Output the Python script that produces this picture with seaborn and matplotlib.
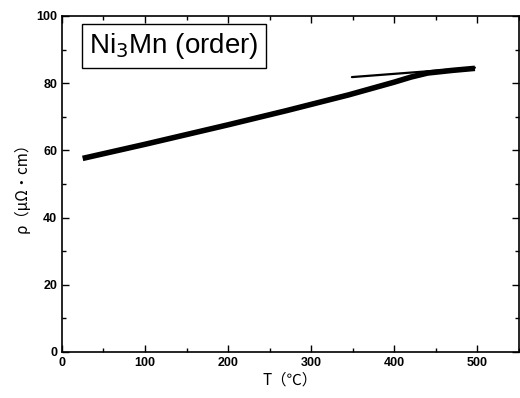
import matplotlib
matplotlib.use("Agg")
import matplotlib.pyplot as plt
import seaborn as sns
import pandas as pd
from matplotlib.ticker import MultipleLocator

sns.set_theme(style="ticks")
plt.rcParams['font.family'] = ['Liberation Sans', 'DejaVu Sans']
plt.rcParams['text.color'] = 'black'
plt.rcParams['axes.labelcolor'] = 'black'

# thick curve
T_main = [25, 100, 200, 270, 345, 400, 420, 440, 470, 497]
rho_main = [57.6, 61.8, 67.6, 71.8, 76.5, 80.3, 81.8, 83.0, 83.8, 84.4]
# thin line
T_thin = [349, 497]
rho_thin = [81.8, 84.6]

df_main = pd.DataFrame({"T": T_main, "rho": rho_main})
df_thin = pd.DataFrame({"T": T_thin, "rho": rho_thin})

fig = plt.figure(figsize=(5.2, 3.98), dpi=100)
ax = fig.add_axes([0.119, 0.1156, 0.879, 0.8444])

sns.lineplot(data=df_main, x="T", y="rho", ax=ax, color="black", linewidth=4, solid_capstyle="butt")
sns.lineplot(data=df_thin, x="T", y="rho", ax=ax, color="black", linewidth=1.6)

ax.set_xlim(0, 550)
ax.set_ylim(0, 100)
ax.xaxis.set_major_locator(MultipleLocator(100))
ax.xaxis.set_minor_locator(MultipleLocator(50))
ax.yaxis.set_major_locator(MultipleLocator(20))
ax.yaxis.set_minor_locator(MultipleLocator(10))
ax.tick_params(which="both", direction="in", top=True, right=True, labelsize=9, width=1, colors="black")
ax.tick_params(which="major", length=5)
ax.tick_params(which="minor", length=3)
for lab in ax.get_xticklabels() + ax.get_yticklabels():
    lab.set_fontweight("bold")
for s in ax.spines.values():
    s.set_color("black")
    s.set_linewidth(1.2)

cjk = ['Noto Sans CJK JP', 'DejaVu Sans']
ax.set_xlabel("T（℃）", fontsize=11, labelpad=2, family=cjk)
ax.set_ylabel("ρ（μΩ・cm）", fontsize=11, labelpad=4, family=cjk)

ax.text(0.06, 0.955, "Ni$_3$Mn (order)", transform=ax.transAxes, fontsize=20,
        va="top", ha="left", color="black",
        bbox=dict(boxstyle="square,pad=0.25", facecolor="white", edgecolor="black", linewidth=1))

fig.savefig("out.png", dpi=100)
